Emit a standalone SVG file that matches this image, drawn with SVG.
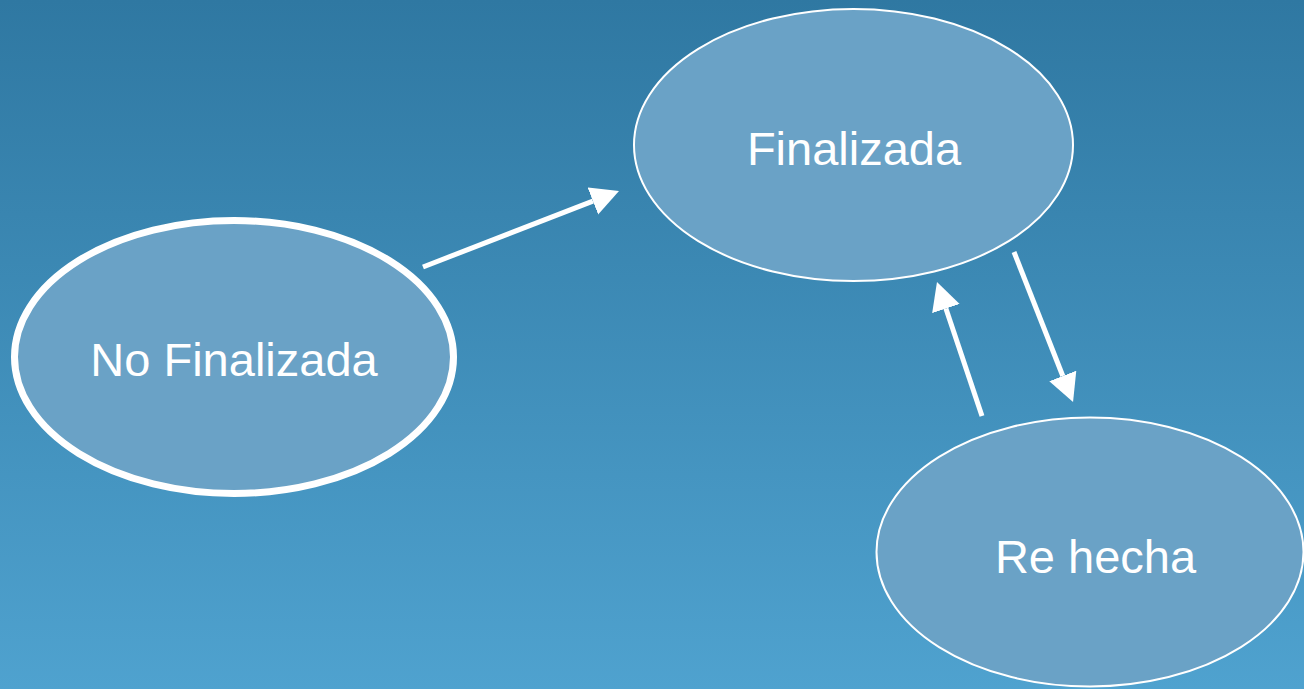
<svg xmlns="http://www.w3.org/2000/svg" width="1304" height="689" viewBox="0 0 1304 689">
  <defs>
    <linearGradient id="bg" x1="0" y1="0" x2="0" y2="1">
      <stop offset="0" stop-color="#2f78a2"/>
      <stop offset="1" stop-color="#4fa2cf"/>
    </linearGradient>
    <marker id="head" markerUnits="userSpaceOnUse" markerWidth="30" markerHeight="30" refX="0" refY="14.5" orient="auto">
      <path d="M0,0 L28,14.5 L0,29 z" fill="#ffffff"/>
    </marker>
  </defs>
  <style>
    .node { fill: #6aa2c6; stroke: #ffffff; stroke-width: 2; }
    .node.initial { stroke-width: 7; }
    .label { font-family: "Liberation Sans", Arial, sans-serif; font-size: 47px; fill: #ffffff; text-anchor: middle; }
    .edge { stroke: #ffffff; stroke-width: 5; fill: none; marker-end: url(#head); }
  </style>

  <rect x="0" y="0" width="1304" height="689" fill="url(#bg)"/>

  <g id="edges">
    <line class="edge" x1="423" y1="267" x2="592.9" y2="201.1"/>
    <line class="edge" x1="1014" y1="252" x2="1062.8" y2="376"/>
    <line class="edge" x1="982" y1="416" x2="945.9" y2="308.5"/>
  </g>

  <g id="no-finalizada">
    <ellipse class="node initial" cx="234" cy="357" rx="219.5" ry="136.5"/>
    <text class="label" x="234" y="376">No Finalizada</text>
  </g>

  <g id="finalizada">
    <ellipse class="node" cx="853.5" cy="145" rx="219.5" ry="136"/>
    <text class="label" x="854" y="165">Finalizada</text>
  </g>

  <g id="re-hecha">
    <ellipse class="node" cx="1090" cy="552" rx="213.5" ry="134.5"/>
    <text class="label" x="1095.5" y="573">Re hecha</text>
  </g>
</svg>
